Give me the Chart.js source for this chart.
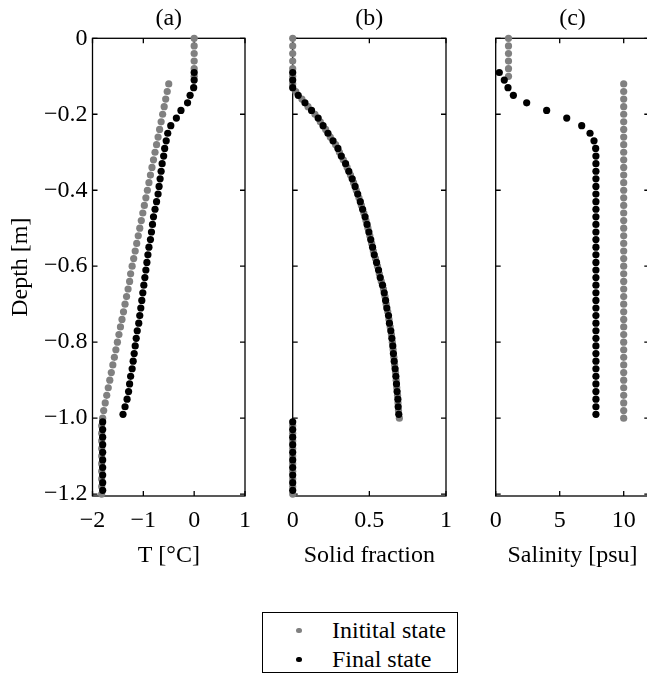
<!DOCTYPE html>
<html>
<head>
<meta charset="utf-8">
<script src="https://cdn.jsdelivr.net/npm/chart.js@4/dist/chart.umd.min.js"></script>
<style>
html, body { margin: 0; padding: 0; background: #fff; overflow: hidden; }
#wrap { position: relative; width: 647px; height: 677px; overflow: hidden; }
canvas { position: absolute; top: 0; }
#legend { position: absolute; left: 262px; top: 612px; width: 194px; height: 59px;
  border: 1.3px solid #000; font-family: 'Liberation Serif', 'Times New Roman', serif;
  font-size: 24px; color: #000; }
#legend .row { position: absolute; left: 0; height: 28px; line-height: 28px; white-space: nowrap; }
#legend .dot { position: absolute; left: 33px; top: 11.5px; width: 5.5px; height: 5.5px; border-radius: 50%; }
#legend .txt { position: absolute; left: 69px; top: 0; }
</style>
</head>
<body>
<div id="wrap">
  <canvas id="chartA" width="262" height="600" style="left:0px"></canvas>
  <canvas id="chartB" width="200" height="600" style="left:262px"></canvas>
  <canvas id="chartC" width="200" height="600" style="left:462px"></canvas>
  <div id="legend"></div>
</div>
<script>
// depth of each cell, initial state (0 .. -1.2 m)
var depthInit = [0, -0.02, -0.04, -0.06, -0.08, -0.10, -0.12, -0.14, -0.16, -0.18, -0.20,
  -0.22, -0.24, -0.26, -0.28, -0.30, -0.32, -0.34, -0.36, -0.38, -0.40,
  -0.42, -0.44, -0.46, -0.48, -0.50, -0.52, -0.54, -0.56, -0.58, -0.60,
  -0.62, -0.64, -0.66, -0.68, -0.70, -0.72, -0.74, -0.76, -0.78, -0.80,
  -0.82, -0.84, -0.86, -0.88, -0.90, -0.92, -0.94, -0.96, -0.98, -1.00,
  -1.02, -1.04, -1.06, -1.08, -1.10, -1.12, -1.14, -1.16, -1.18, -1.20];
// depth of each cell, final state
var depthFinal = [-0.09, -0.11, -0.13, -0.15, -0.17, -0.19, -0.21, -0.23, -0.25, -0.27, -0.29,
  -0.31, -0.33, -0.35, -0.37, -0.39, -0.41, -0.43, -0.45, -0.47, -0.49,
  -0.51, -0.53, -0.55, -0.57, -0.59, -0.61, -0.63, -0.65, -0.67, -0.69,
  -0.71, -0.73, -0.75, -0.77, -0.79, -0.81, -0.83, -0.85, -0.87, -0.89,
  -0.91, -0.93, -0.95, -0.97, -0.99,
  -1.01, -1.03, -1.05, -1.07, -1.09, -1.11, -1.13, -1.15, -1.17, -1.19];

// (a) temperature [°C]
var tempInit = [0, 0, 0, 0, 0, 0,
  -0.50, -0.53, -0.56, -0.59, -0.62, -0.65, -0.68, -0.71, -0.74, -0.77,
  -0.80, -0.83, -0.86, -0.89, -0.92, -0.95, -0.98, -1.01, -1.04, -1.07,
  -1.10, -1.13, -1.16, -1.19, -1.22, -1.25, -1.27, -1.30, -1.33, -1.36,
  -1.39, -1.42, -1.45, -1.48, -1.51, -1.54, -1.57, -1.60, -1.63, -1.66,
  -1.69, -1.72, -1.75, -1.78, -1.80,
  -1.82, -1.82, -1.82, -1.82, -1.82, -1.82, -1.82, -1.82, -1.82, -1.82];
var tempFinal = [0.0, 0.0, -0.01, -0.08, -0.13, -0.26, -0.35, -0.46, -0.52, -0.55,
  -0.58, -0.60, -0.63, -0.65, -0.67, -0.69, -0.71, -0.74, -0.77, -0.80,
  -0.82, -0.84, -0.86, -0.89, -0.91, -0.93, -0.95, -0.97, -0.99, -1.01,
  -1.03, -1.05, -1.07, -1.09, -1.12, -1.14, -1.16, -1.18, -1.20, -1.22,
  -1.25, -1.27, -1.29, -1.32, -1.36, -1.40,
  -1.80, -1.80, -1.80, -1.80, -1.80, -1.80, -1.80, -1.80, -1.80, -1.80];

// (b) solid fraction
var solidInit = [0, 0, 0, 0, 0, 0,
  0.0, 0.02, 0.06, 0.10, 0.145, 0.18, 0.215, 0.245, 0.28, 0.305,
  0.33, 0.355, 0.377, 0.397, 0.415, 0.432, 0.448, 0.464, 0.478, 0.491,
  0.503, 0.515, 0.526, 0.54, 0.553, 0.565, 0.578, 0.592, 0.602, 0.61,
  0.62, 0.628, 0.636, 0.644, 0.65, 0.655, 0.66, 0.665, 0.671, 0.675,
  0.679, 0.684, 0.687, 0.69, 0.696,
  0, 0, 0, 0, 0, 0, 0, 0, 0, 0];
var solidFinal = [0, 0, 0, 0.036, 0.08, 0.123, 0.166, 0.198, 0.23, 0.263,
  0.295, 0.317, 0.345, 0.366, 0.388, 0.407, 0.424, 0.441, 0.456, 0.472,
  0.485, 0.497, 0.509, 0.521, 0.532, 0.547, 0.56, 0.571, 0.586, 0.597,
  0.606, 0.614, 0.625, 0.631, 0.64, 0.647, 0.653, 0.657, 0.662, 0.668,
  0.673, 0.677, 0.681, 0.686, 0.688, 0.692,
  0, 0, 0, 0, 0, 0, 0, 0, 0, 0];

// (c) salinity [psu]; sea water values are off the scale, left out (null)
var salInit = [1, 1, 1, 1, 1, 1,
  10, 10, 10, 10, 10, 10, 10, 10, 10, 10, 10, 10, 10, 10, 10,
  10, 10, 10, 10, 10, 10, 10, 10, 10, 10, 10, 10, 10, 10, 10,
  10, 10, 10, 10, 10, 10, 10, 10, 10, 10, 10, 10, 10, 10, 10,
  null, null, null, null, null, null, null, null, null, null];
var salFinal = [0.28, 0.67, 0.96, 1.38, 2.42, 3.98, 5.55, 6.72, 7.37, 7.68, 7.81,
  7.83, 7.83, 7.83, 7.83, 7.83, 7.83, 7.83, 7.83, 7.83, 7.83,
  7.83, 7.83, 7.83, 7.83, 7.83, 7.83, 7.83, 7.83, 7.83, 7.83,
  7.83, 7.83, 7.83, 7.83, 7.83, 7.83, 7.83, 7.83, 7.83, 7.83,
  7.83, 7.83, 7.83, 7.83, 7.83,
  null, null, null, null, null, null, null, null, null, null];

// tick labels
var depthTicks = [0, -0.2, -0.4, -0.6, -0.8, -1.0, -1.2];
var tempTicks = [-2, -1, 0, 1];
var solidTicks = [0, 0.5, 1];
var salTicks = [0, 5, 10];

var panelTitles = ['(a)', '(b)', '(c)'];
var xTitles = ['T [°C]', 'Solid fraction', 'Salinity [psu]'];
var yTitle = 'Depth [m]';
var seriesNames = ['Initital state', 'Final state'];
var seriesColors = ['rgb(128,128,128)', 'rgb(0,0,0)'];

var FONT = "'Liberation Serif', 'Times New Roman', serif";
var FSIZE = 24;
var MINUS = '\u2212';

// x labels as plain numbers, depth labels with one decimal
function fmtX(v) {
	if (v === 0) return '0';
	return v < 0 ? MINUS + Math.abs(v) : String(v);
}
function fmtY(v) {
	if (v === 0) return '0';
	return v < 0 ? MINUS + Math.abs(v).toFixed(1) : v.toFixed(1);
}

function points(xs, ys) {
	var out = [];
	for (var i = 0; i < ys.length; i++) {
		if (xs[i] === null) continue;
		out.push({ x: xs[i], y: ys[i] });
	}
	return out;
}

// box round the plot and inward tick marks on all four sides
var framePlugin = {
	id: 'frame',
	beforeDatasetsDraw: function(chart) {
		var ctx = chart.ctx, a = chart.chartArea;
		var xs = chart.scales.x, ys = chart.scales.y;
		var tl = 5;
		ctx.save();
		ctx.strokeStyle = '#000';
		ctx.lineWidth = 1.3;
		ctx.strokeRect(a.left, a.top, a.right - a.left, a.bottom - a.top);
		ctx.beginPath();
		xs.ticks.forEach(function(t) {
			var px = xs.getPixelForValue(t.value);
			ctx.moveTo(px, a.bottom); ctx.lineTo(px, a.bottom - tl);
			ctx.moveTo(px, a.top); ctx.lineTo(px, a.top + tl);
		});
		ys.ticks.forEach(function(t) {
			var py = ys.getPixelForValue(t.value);
			ctx.moveTo(a.left, py); ctx.lineTo(a.left + tl, py);
			ctx.moveTo(a.right, py); ctx.lineTo(a.right - tl, py);
		});
		ctx.stroke();
		ctx.restore();
	}
};

function makePanel(id, idx, xInit, xFinal, xmin, xmax, xTicks, yWidth, padRight, showY) {
	var el = document.getElementById(id);
	return new Chart(el, {
		type: 'scatter',
		data: {
			datasets: [
			{
				label: seriesNames[0],
				data: points(xInit, depthInit),
				backgroundColor: seriesColors[0],
				borderWidth: 0,
				pointRadius: 3.6,
				pointBorderWidth: 0,
				order: 1,
				clip: false
			},
			{
				label: seriesNames[1],
				data: points(xFinal, depthFinal),
				backgroundColor: seriesColors[1],
				borderWidth: 0,
				pointRadius: 3.6,
				pointBorderWidth: 0,
				order: 0,
				clip: false
			}
			]
		},
		options: {
			responsive: false,
			animation: false,
			layout: { padding: { left: 0, right: padRight, top: 0, bottom: 0 } },
			plugins: {
				legend: { display: false },
				tooltip: { enabled: false },
				title: {
					display: true,
					text: panelTitles[idx],
					fullSize: false,
					color: '#000',
					font: { family: FONT, size: FSIZE, weight: 'normal' },
					padding: { top: 4, bottom: 5.5 }
				}
			},
			scales: {
				x: {
					type: 'linear',
					min: xmin,
					max: xmax,
					grid: { display: false, drawTicks: false },
					border: { display: false },
					afterBuildTicks: function(s) { s.ticks = xTicks.map(function(v) { return { value: v }; }); },
					afterFit: function(s) { s.height = 104; },
					ticks: {
						color: '#000',
						padding: 10,
						maxRotation: 0,
						font: { family: FONT, size: FSIZE },
						callback: fmtX
					},
					title: {
						display: true,
						text: xTitles[idx],
						color: '#000',
						font: { family: FONT, size: FSIZE },
						padding: { top: 0, bottom: 30 }
					}
				},
				y: {
					type: 'linear',
					min: -1.205,
					max: 0,
					grid: { display: false, drawTicks: false },
					border: { display: false },
					afterBuildTicks: function(s) { s.ticks = depthTicks.map(function(v) { return { value: v }; }); },
					afterFit: function(s) { s.width = yWidth; },
					ticks: {
						display: showY,
						color: '#000',
						padding: 5,
						font: { family: FONT, size: FSIZE },
						callback: fmtY
					},
					title: {
						display: showY,
						text: yTitle,
						color: '#000',
						font: { family: FONT, size: FSIZE },
						padding: { top: 6, bottom: 0 }
					}
				}
			}
		},
		plugins: [framePlugin]
	});
}

makePanel('chartA', 0, tempInit, tempFinal, -2, 1, tempTicks, 92.5, 17, true);
makePanel('chartB', 1, solidInit, solidFinal, 0, 1, solidTicks, 30.7, 15, false);
makePanel('chartC', 2, salInit, salFinal, 0, 12, salTicks, 33.7, 12.7, false);

// legend box below the panels
var leg = document.getElementById('legend');
for (var i = 0; i < seriesNames.length; i++) {
	var row = document.createElement('div');
	row.className = 'row';
	row.style.top = (3 + i * 29) + 'px';
	row.innerHTML = '<span class="dot" style="background:' + seriesColors[i] + '"></span>' +
		'<span class="txt">' + seriesNames[i] + '</span>';
	leg.appendChild(row);
}
</script>
</body>
</html>
